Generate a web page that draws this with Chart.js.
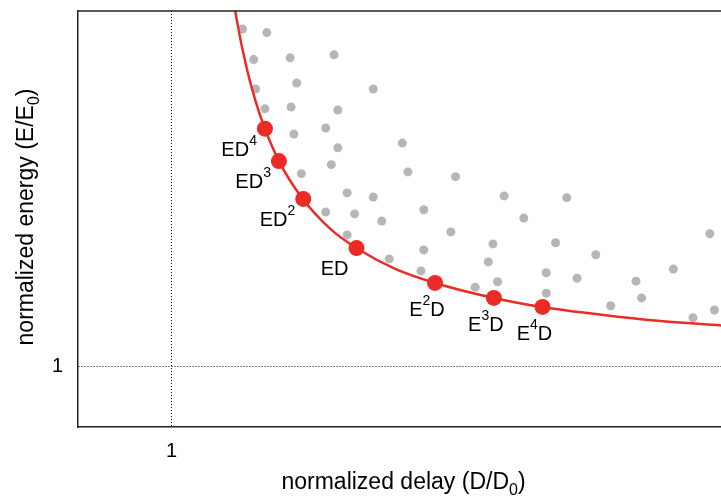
<!DOCTYPE html>
<html>
<head>
<meta charset="utf-8">
<title>Energy-delay trade-off</title>
<script src="https://cdn.jsdelivr.net/npm/chart.js@4.4.0/dist/chart.umd.min.js"></script>
<style>
  html, body { margin: 0; padding: 0; background: #fff; }
</style>
</head>
<body>
<canvas id="chart" width="721" height="500"></canvas>
<script>
  // gray design points
  const designDelay = [1.76, 2.02, 1.88, 2.27, 2.74, 1.90, 2.34, 3.16, 2.00, 2.28,
    2.78, 2.31, 2.65, 2.78, 3.47, 2.71, 3.53, 2.39, 2.88, 3.16,
    2.65, 2.96, 3.25, 2.88, 3.33, 4.04, 4.56, 5.23, 3.70, 4.77,
    3.99, 4.44, 5.11, 3.70, 4.39, 3.67, 5.01, 4.49, 4.25, 5.01,
    6.76, 5.54, 6.37, 5.34, 5.97, 6.03, 5.70, 6.58, 6.81];
  const designEnergy = [6.63, 6.57, 6.12, 6.15, 6.20, 5.63, 5.73, 5.63, 5.30, 5.33,
    5.28, 4.88, 4.98, 4.65, 4.73, 4.37, 4.25, 4.22, 3.90, 3.83,
    3.58, 3.55, 3.43, 3.20, 2.80, 4.17, 3.85, 3.82, 3.62, 3.48,
    3.25, 3.05, 3.07, 2.95, 2.75, 2.60, 2.57, 2.42, 2.33, 2.23,
    3.22, 2.87, 2.63, 2.48, 2.43, 2.15, 2.02, 1.82, 1.95];

  // red optimal points
  const paretoDelay = [2.00, 2.15, 2.41, 2.98, 3.82, 4.45, 4.97];
  const paretoEnergy = [4.97, 4.43, 3.80, 2.98, 2.40, 2.15, 2.00];
  const paretoLabels = ['ED^4', 'ED^3', 'ED^2', 'ED', 'E^2D', 'E^3D', 'E^4D'];

  // red curve
  const curveDelay = [1.62, 1.70, 1.80, 1.90, 2.00, 2.15, 2.40, 2.70, 3.00, 3.40, 3.82, 4.45, 5.00, 5.60, 6.20, 6.90];
  const curveEnergy = [7.58, 6.77, 6.01, 5.43, 4.97, 4.43, 3.81, 3.30, 2.96, 2.63, 2.40, 2.15, 1.99, 1.87, 1.77, 1.69];

  const xTicks = [1];
  const yTicks = [1];
  const xTitle = 'normalized delay (D/D_0)';
  const yTitle = 'normalized energy (E/E_0)';

  const FONT = '"Liberation Sans", Arial, sans-serif';
  const RED = '#ec2c24';
  const GRAY = '#b4b6b7';

  const pts = (xs, ys) => xs.map((x, i) => ({ x: x, y: ys[i] }));

  // text with ^x superscripts and _x subscripts
  function drawRich(ctx, text, x, y, size, align) {
    const parts = [];
    for (let i = 0; i < text.length; i++) {
      const c = text[i];
      if ((c === '^' || c === '_') && i + 1 < text.length) {
        parts.push({ t: text[i + 1], k: c });
        i++;
      } else {
        parts.push({ t: c, k: '' });
      }
    }
    const small = Math.round(size * 0.7);
    const fontFor = k => (k ? small : size) + 'px ' + FONT;
    let w = 0;
    parts.forEach(p => { ctx.font = fontFor(p.k); p.w = ctx.measureText(p.t).width; w += p.w; });
    let cx = align === 'right' ? x - w : (align === 'center' ? x - w / 2 : x);
    ctx.textAlign = 'left';
    ctx.textBaseline = 'alphabetic';
    parts.forEach(p => {
      ctx.font = fontFor(p.k);
      const dy = p.k === '^' ? -size * 0.55 : (p.k === '_' ? size * 0.28 : 0);
      ctx.fillText(p.t, cx, y + dy);
      cx += p.w;
    });
  }

  // no extra room for half tick labels at the ends
  function fixBox(s, prop, size) {
    s[prop] = size;
    s.paddingTop = 0;
    s.paddingBottom = 0;
    s.paddingLeft = 0;
    s.paddingRight = 0;
  }

  const decorPlugin = {
    id: 'decor',
    afterDatasetsDraw(chart) {
      const ctx = chart.ctx;
      const area = chart.chartArea;
      ctx.save();
      // top frame line
      ctx.strokeStyle = '#222';
      ctx.lineWidth = 1.5;
      ctx.beginPath();
      ctx.moveTo(area.left, area.top);
      ctx.lineTo(area.right, area.top);
      ctx.stroke();
      // point labels
      ctx.fillStyle = '#000';
      const meta = chart.getDatasetMeta(0);
      meta.data.forEach((el, i) => {
        const lbl = paretoLabels[i];
        if (lbl.startsWith('ED')) {
          drawRich(ctx, lbl, el.x - 8, el.y + 27, 20, 'right');
        } else {
          drawRich(ctx, lbl, el.x - 8, el.y + 33, 20, 'center');
        }
      });
      ctx.restore();
    },
    afterDraw(chart) {
      const ctx = chart.ctx;
      const area = chart.chartArea;
      ctx.save();
      ctx.fillStyle = '#000';
      drawRich(ctx, xTitle, (area.left + area.right) / 2 + 4, 489, 23, 'center');
      ctx.translate(33, (area.top + area.bottom) / 2 - 2);
      ctx.rotate(-Math.PI / 2);
      drawRich(ctx, yTitle, 0, 0, 23, 'center');
      ctx.restore();
    }
  };

  new Chart(document.getElementById('chart'), {
    type: 'scatter',
    data: {
      datasets: [
        {
          label: 'optimal',
          data: pts(paretoDelay, paretoEnergy),
          pointRadius: 8,
          pointBackgroundColor: RED,
          pointBorderWidth: 0
        },
        {
          label: 'curve',
          data: pts(curveDelay, curveEnergy),
          showLine: true,
          borderColor: RED,
          borderWidth: 2.5,
          pointRadius: 0,
          cubicInterpolationMode: 'monotone'
        },
        {
          label: 'designs',
          data: pts(designDelay, designEnergy),
          pointRadius: 4.5,
          pointBackgroundColor: GRAY,
          pointBorderWidth: 0
        }
      ]
    },
    options: {
      responsive: false,
      animation: false,
      events: [],
      layout: { autoPadding: false, padding: { top: 11, right: 0, left: 0, bottom: 0 } },
      plugins: { legend: { display: false }, tooltip: { enabled: false } },
      scales: {
        x: {
          type: 'linear',
          min: 0,
          max: 6.88,
          afterBuildTicks: s => { s.ticks = xTicks.map(v => ({ value: v })); },
          afterFit: s => fixBox(s, 'height', 73),
          ticks: { color: '#000', font: { family: FONT, size: 20 }, padding: 12 },
          grid: { color: '#000', lineWidth: 1, drawTicks: false },
          border: { color: '#222', width: 1.5, dash: [1, 2] }
        },
        y: {
          type: 'linear',
          min: 0,
          max: 6.93,
          afterBuildTicks: s => { s.ticks = yTicks.map(v => ({ value: v })); },
          afterFit: s => fixBox(s, 'width', 78),
          ticks: { color: '#000', font: { family: FONT, size: 20 }, padding: 15 },
          grid: { color: '#000', lineWidth: 1, drawTicks: false },
          border: { color: '#222', width: 1.5, dash: [1, 2] }
        }
      }
    },
    plugins: [decorPlugin]
  });
</script>
</body>
</html>
